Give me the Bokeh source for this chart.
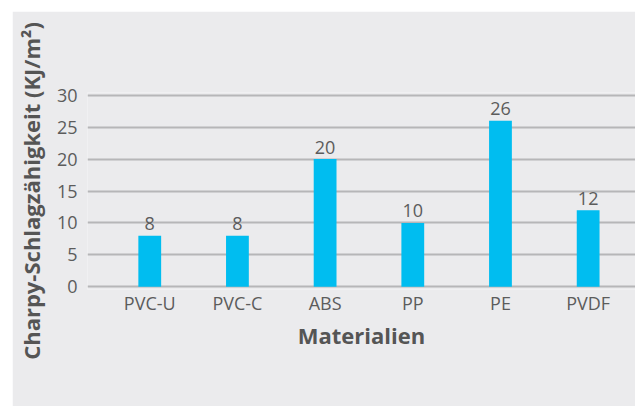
from bokeh.plotting import figure
from bokeh.models import Range1d, FixedTicker, ColumnDataSource
from bokeh.core.properties import value
from bokeh.embed import file_html
from bokeh.resources import INLINE

# Charpy impact strength per material
materials = ["PVC-U", "PVC-C", "ABS", "PP", "PE", "PVDF"]
strength = [8, 8, 20, 10, 26, 12]
y_ticks = [0, 5, 10, 15, 20, 25, 30]

BG = "#ebebed"
BAR = "#00bdf0"
GRID = "#b6b6b8"
TEXT = "#5c5c5c"
TITLE = "#555555"
FONT = "Open Sans"

positions = list(range(len(materials)))
source = ColumnDataSource(data=dict(
    x=positions,
    y=strength,
    label=[str(v) for v in strength],
))

p = figure(
    width=623, height=395,
    x_range=Range1d(-0.71, 5.54),
    y_range=Range1d(-0.45, 30.45),
    output_backend="svg",
    toolbar_location=None,
    min_border_left=73, min_border_right=0,
    min_border_top=81, min_border_bottom=117,
)
p.margin = (11, 0, 0, 12)
p.background_fill_color = BG
p.border_fill_color = BG
p.outline_line_color = None

p.vbar(x="x", top="y", bottom=0, width=0.26, source=source,
       fill_color=BAR, line_color=None)

# value labels just above each bar
p.text(x="x", y="y", text="label", source=source,
       text_align="center", text_baseline="alphabetic", y_offset=-12,
       text_font=value(FONT), text_font_size="18px", text_color=TEXT)

# axes
p.xaxis.ticker = FixedTicker(ticks=positions)
p.xaxis.major_label_overrides = {i: m for i, m in enumerate(materials)}
p.yaxis.ticker = FixedTicker(ticks=y_ticks)

for ax in (p.xaxis[0], p.yaxis[0]):
    ax.axis_line_color = None
    ax.major_tick_line_color = None
    ax.minor_tick_line_color = None
    ax.major_tick_in = 0
    ax.major_tick_out = 0
    ax.major_label_text_font = FONT
    ax.major_label_text_font_size = "18px"
    ax.major_label_text_color = TEXT
    ax.axis_label_text_font = FONT
    ax.axis_label_text_font_size = "22px"
    ax.axis_label_text_font_style = "bold"
    ax.axis_label_text_color = TITLE

p.xaxis.axis_label = "Materialien"
p.xaxis.major_label_standoff = 1
p.xaxis.axis_label_standoff = 2
p.yaxis.axis_label = "Charpy-Schlagzähigkeit (KJ/m²)"
p.yaxis.major_label_standoff = 10
p.yaxis.axis_label_standoff = 8

p.xgrid.grid_line_color = None
p.ygrid.ticker = FixedTicker(ticks=y_ticks)
p.ygrid.grid_line_color = GRID
p.ygrid.grid_line_width = 2

open("out.html", "w").write(file_html(p, INLINE))
